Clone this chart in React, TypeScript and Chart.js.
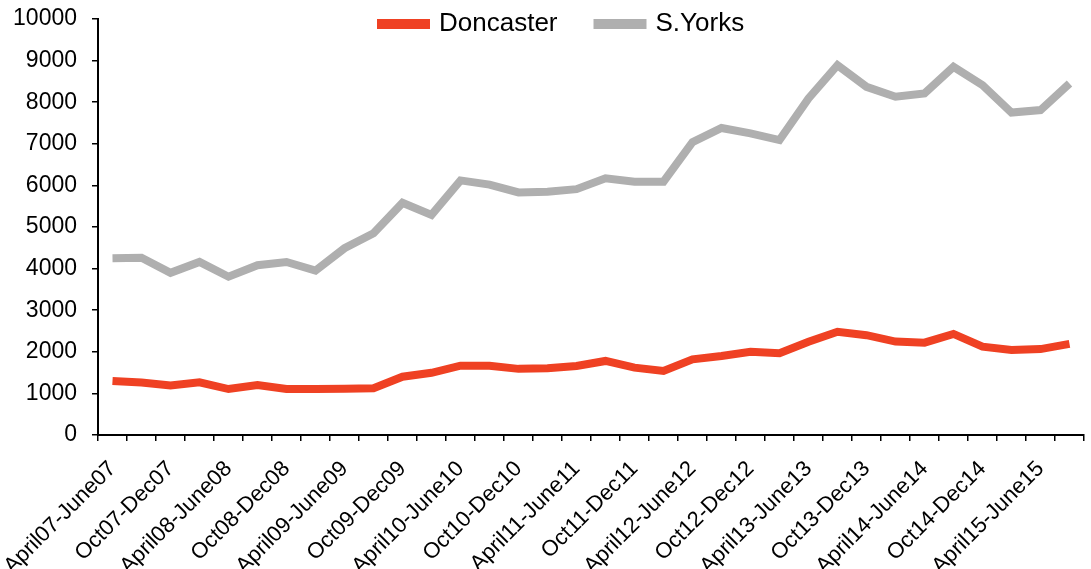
import React, { useEffect, useRef } from 'react';
import { Chart, registerables } from 'chart.js';

Chart.register(...registerables);

const quarters = [
  'April07-June07', 'July07-Sep07', 'Oct07-Dec07', 'Jan08-Mar08',
  'April08-June08', 'July08-Sep08', 'Oct08-Dec08', 'Jan09-Mar09',
  'April09-June09', 'July09-Sep09', 'Oct09-Dec09', 'Jan10-Mar10',
  'April10-June10', 'July10-Sep10', 'Oct10-Dec10', 'Jan11-Mar11',
  'April11-June11', 'July11-Sep11', 'Oct11-Dec11', 'Jan12-Mar12',
  'April12-June12', 'July12-Sep12', 'Oct12-Dec12', 'Jan13-Mar13',
  'April13-June13', 'July13-Sep13', 'Oct13-Dec13', 'Jan14-Mar14',
  'April14-June14', 'July14-Sep14', 'Oct14-Dec14', 'Jan15-Mar15',
  'April15-June15', 'July15-Sep15',
];

const doncaster = [
  1300, 1260, 1190, 1265, 1105, 1200, 1105, 1105, 1110, 1125,
  1400, 1495, 1665, 1665, 1590, 1605, 1660, 1780, 1620, 1540,
  1820, 1900, 2000, 1965, 2240, 2480, 2400, 2245, 2220, 2430,
  2125, 2045, 2065, 2190,
];

const sYorks = [
  4250, 4260, 3900, 4160, 3805, 4080, 4160, 3950, 4490, 4850,
  5580, 5290, 6120, 6020, 5830, 5850, 5910, 6170, 6090, 6090,
  7040, 7380, 7250, 7090, 8090, 8890, 8370, 8130, 8210, 8850,
  8410, 7750, 7810, 8450,
];

const seriesNames = ['Doncaster', 'S.Yorks'];
const seriesColors = ['#EF4123', '#AFAFAF'];

const yMin = 0;
const yMax = 10000;
const yStep = 1000;

const FONT = "'Liberation Sans', Arial, Helvetica, sans-serif";

export default function App() {
  const ref = useRef<HTMLCanvasElement>(null);

  useEffect(() => {
    if (!ref.current) return;
    const legendPad = 40;
    const legendPlace = {
      id: 'legendPlace',
      afterLayout(chart: any) {
        const lg = chart.legend;
        if (!lg) return;
        lg.left = 381 - legendPad;
        lg.right = 1091;
        lg.top = 11 - legendPad;
        lg.bottom = 70;
        lg.width = lg.right - lg.left;
        lg.height = lg.bottom - lg.top;
      },
    };

    const chart = new Chart(ref.current, {
      type: 'line',
      data: {
        labels: quarters,
        datasets: [
          {
            label: seriesNames[0],
            data: doncaster,
            borderColor: seriesColors[0],
            backgroundColor: seriesColors[0],
            borderWidth: 8,
            pointRadius: 0,
            tension: 0,
            borderJoinStyle: 'miter',
          },
          {
            label: seriesNames[1],
            data: sYorks,
            borderColor: seriesColors[1],
            backgroundColor: seriesColors[1],
            borderWidth: 8,
            pointRadius: 0,
            tension: 0,
            borderJoinStyle: 'miter',
          },
        ],
      },
      options: {
        responsive: false,
        animation: false,
        devicePixelRatio: 1,
        layout: { padding: { left: 0, right: 7, top: 18, bottom: 0 } },
        plugins: {
          tooltip: { enabled: false },
          legend: {
            position: 'top',
            align: 'start',
            maxHeight: 1,
            labels: {
              boxWidth: 45,
              boxHeight: 2,
              padding: legendPad,
              color: '#000',
              font: { family: FONT, size: 26 },
            },
          },
        },
        scales: {
          x: {
            offset: true,
            afterFit: (scale: any) => {
              scale.height = 134;
              scale.paddingLeft = 0;
              scale.paddingRight = 0;
            },
            border: { display: true, color: '#000', width: 2 },
            grid: {
              offset: true,
              drawOnChartArea: false,
              drawTicks: true,
              tickLength: 6,
              color: '#000',
              lineWidth: 1.5,
            },
            ticks: {
              autoSkip: false,
              maxRotation: 45,
              minRotation: 45,
              padding: 15,
              color: '#000',
              font: { family: FONT, size: 22 },
              callback: (_v: any, i: number) => (i % 2 === 0 ? quarters[i] : ''),
            },
          },
          y: {
            min: yMin,
            max: yMax,
            afterFit: (scale: any) => {
              scale.width = 98;
              scale.paddingTop = 0;
              scale.paddingBottom = 0;
            },
            border: { display: true, color: '#000', width: 2 },
            grid: {
              drawOnChartArea: false,
              drawTicks: true,
              tickLength: 6,
              color: '#000',
              lineWidth: 1.5,
            },
            ticks: {
              stepSize: yStep,
              padding: 15,
              color: '#000',
              font: { family: FONT, size: 23 },
              callback: (v: any) => String(v),
            },
          },
        },
      },
      plugins: [legendPlace],
    } as any);

    return () => chart.destroy();
  }, []);

  return (
    <div style={{ position: 'absolute', left: 0, top: 0, width: 1091, height: 569 }}>
      <canvas ref={ref} width={1091} height={569} />
    </div>
  );
}
